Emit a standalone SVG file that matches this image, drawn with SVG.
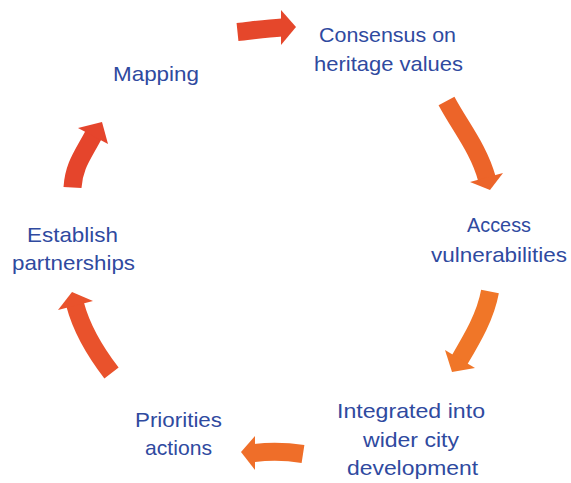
<svg xmlns="http://www.w3.org/2000/svg" width="571" height="483" viewBox="0 0 571 483">
<style>
.lbl{font-family:"Liberation Sans","Open Sans",Arial,sans-serif;font-size:21px;fill:#2F4A9F;text-anchor:middle}
.sh{fill:none;stroke-width:18;stroke-linecap:butt}
</style>
<rect width="571" height="483" fill="#ffffff"/>
<g id="connectors">
  <g id="a1"><path class="sh" stroke="#E5472B" d="M237.5,32 C252,30.5 266,28.5 282,27.5"/><polygon fill="#E5472B" points="281,10 296,27 281,45"/></g>
  <g id="a2"><path class="sh" stroke="#EC6429" d="M446.5,101 C460.6,127.4 478.7,148.7 487,179"/><polygon fill="#EC6429" points="470,182 503,173 490,190"/></g>
  <g id="a3"><path class="sh" stroke="#F07628" d="M490,291.5 C485.5,316 472.8,337.5 459.5,360"/><polygon fill="#F07628" points="445,350 475,368 452,372"/></g>
  <g id="a4"><path class="sh" stroke="#EF6E29" d="M303,454 C287,451.5 271,451 254,453"/><polygon fill="#EF6E29" points="255,436 255,470 241,452"/></g>
  <g id="a5"><path class="sh" stroke="#E9522C" d="M111.5,373 C96.3,353.3 81.8,329.8 75,304"/><polygon fill="#E9522C" points="58,310 93,301 72,292"/></g>
  <g id="a6"><path class="sh" stroke="#E5452C" d="M72.5,187.5 C74,165.5 82.7,155.4 93.5,135"/><polygon fill="#E5452C" points="78,128 108,144 102,122"/></g>
</g>
<g id="consensus"><text class="lbl" x="387.5" y="42" textLength="137" lengthAdjust="spacingAndGlyphs">Consensus on</text><text class="lbl" x="388.5" y="71" textLength="149" lengthAdjust="spacingAndGlyphs">heritage values</text></g>
<g id="access"><text class="lbl" x="499" y="232" textLength="64" lengthAdjust="spacingAndGlyphs">Access</text><text class="lbl" x="499" y="262" textLength="136" lengthAdjust="spacingAndGlyphs">vulnerabilities</text></g>
<g id="integrated"><text class="lbl" x="411" y="418" textLength="148" lengthAdjust="spacingAndGlyphs">Integrated into</text><text class="lbl" x="411" y="447" textLength="96" lengthAdjust="spacingAndGlyphs">wider city</text><text class="lbl" x="412.5" y="475" textLength="131" lengthAdjust="spacingAndGlyphs">development</text></g>
<g id="priorities"><text class="lbl" x="178.5" y="427" textLength="87" lengthAdjust="spacingAndGlyphs">Priorities</text><text class="lbl" x="178.5" y="455" textLength="67" lengthAdjust="spacingAndGlyphs">actions</text></g>
<g id="establish"><text class="lbl" x="72.5" y="242" textLength="91" lengthAdjust="spacingAndGlyphs">Establish</text><text class="lbl" x="73.5" y="270" textLength="123" lengthAdjust="spacingAndGlyphs">partnerships</text></g>
<g id="mapping"><text class="lbl" x="156" y="81" textLength="86" lengthAdjust="spacingAndGlyphs">Mapping</text></g>
</svg>
